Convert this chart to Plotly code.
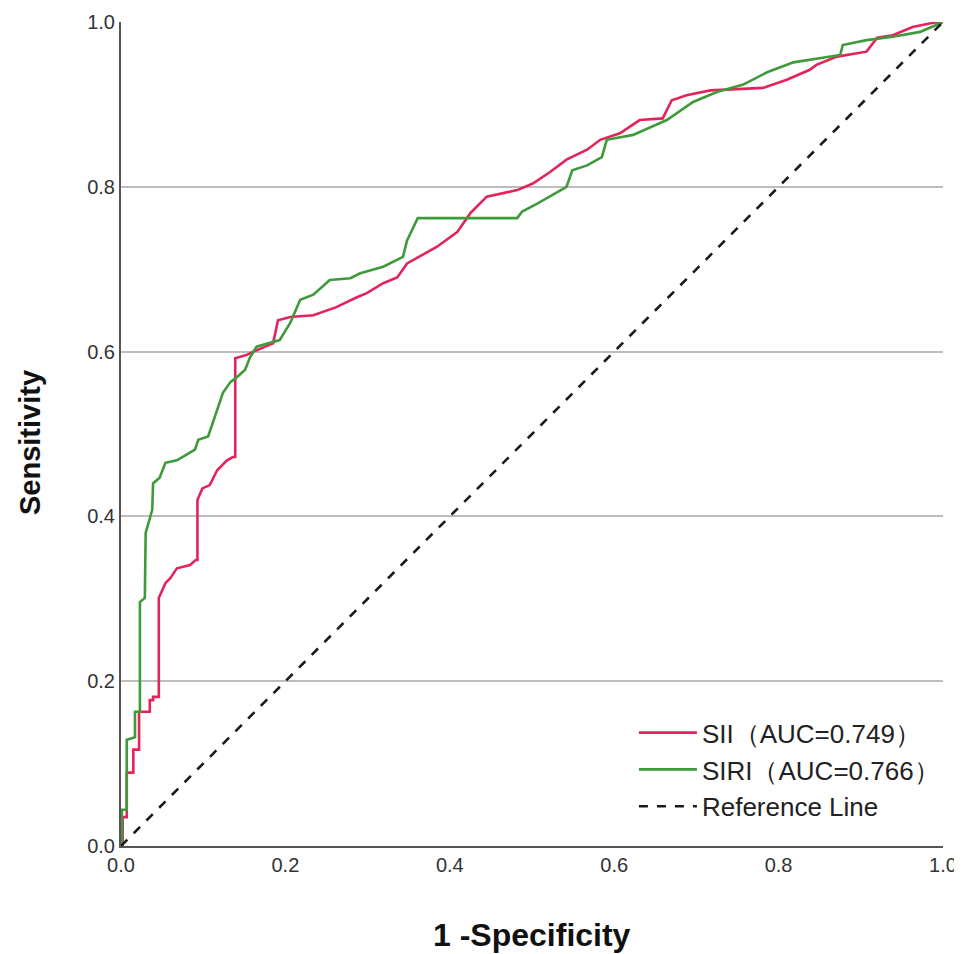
import plotly.graph_objects as go

# SII ROC curve points (1-specificity, sensitivity)
sii_x = [0.0, 0.002, 0.002, 0.007, 0.007, 0.015, 0.015, 0.022, 0.022, 0.035, 0.035, 0.039, 0.039, 0.046, 0.046,
         0.054, 0.060, 0.068, 0.084, 0.091, 0.093, 0.093, 0.099, 0.108, 0.117, 0.129, 0.136, 0.139, 0.139,
         0.153, 0.161, 0.185, 0.191, 0.206, 0.234, 0.262, 0.287, 0.299, 0.319, 0.336, 0.348, 0.384, 0.409,
         0.425, 0.445, 0.482, 0.501, 0.522, 0.542, 0.567, 0.583, 0.607, 0.631, 0.659, 0.670, 0.688, 0.717,
         0.781, 0.810, 0.838, 0.846, 0.871, 0.907, 0.920, 0.939, 0.963, 0.988, 1.0]
sii_y = [0.0, 0.0, 0.035, 0.035, 0.089, 0.089, 0.117, 0.117, 0.163, 0.163, 0.177, 0.177, 0.181, 0.181, 0.301,
         0.319, 0.325, 0.337, 0.341, 0.347, 0.347, 0.420, 0.434, 0.438, 0.456, 0.468, 0.472, 0.472, 0.592,
         0.596, 0.600, 0.610, 0.638, 0.642, 0.644, 0.654, 0.666, 0.671, 0.683, 0.690, 0.707, 0.727, 0.745,
         0.768, 0.788, 0.796, 0.804, 0.818, 0.833, 0.845, 0.857, 0.865, 0.881, 0.883, 0.905, 0.911, 0.917,
         0.920, 0.930, 0.942, 0.948, 0.958, 0.964, 0.981, 0.984, 0.994, 0.999, 1.0]

# SIRI ROC curve points
siri_x = [0.0, 0.001, 0.001, 0.007, 0.007, 0.015, 0.017, 0.017, 0.023, 0.023, 0.029, 0.030, 0.038, 0.039,
          0.047, 0.054, 0.068, 0.090, 0.094, 0.106, 0.124, 0.133, 0.141, 0.151, 0.157, 0.165, 0.185, 0.193,
          0.206, 0.218, 0.234, 0.254, 0.279, 0.291, 0.319, 0.343, 0.348, 0.361, 0.482, 0.488, 0.507, 0.542,
          0.549, 0.567, 0.585, 0.591, 0.623, 0.664, 0.696, 0.725, 0.757, 0.786, 0.818, 0.850, 0.875, 0.878,
          0.907, 0.939, 0.972, 0.984, 1.0]
siri_y = [0.0, 0.0, 0.044, 0.044, 0.129, 0.132, 0.132, 0.163, 0.163, 0.296, 0.301, 0.380, 0.408, 0.440,
          0.447, 0.465, 0.468, 0.481, 0.493, 0.497, 0.550, 0.563, 0.569, 0.578, 0.593, 0.606, 0.612, 0.614,
          0.635, 0.663, 0.669, 0.687, 0.689, 0.695, 0.703, 0.715, 0.735, 0.762, 0.762, 0.770, 0.780, 0.800,
          0.820, 0.826, 0.836, 0.857, 0.863, 0.881, 0.903, 0.915, 0.924, 0.939, 0.951, 0.956, 0.960, 0.972,
          0.978, 0.982, 0.988, 0.993, 1.0]

ref_x = [0.0, 1.0]
ref_y = [0.0, 1.0]

tick_vals = [0.0, 0.2, 0.4, 0.6, 0.8, 1.0]
tick_text = ["0.0", "0.2", "0.4", "0.6", "0.8", "1.0"]

names = ["SII（AUC=0.749）", "SIRI（AUC=0.766）", "Reference Line"]
x_title = "1 -Specificity"
y_title = "Sensitivity"

fig = go.Figure()
fig.add_trace(go.Scatter(x=sii_x, y=sii_y, mode="lines", name=names[0],
                         line=dict(color="#E3245A", width=2.6)))
fig.add_trace(go.Scatter(x=siri_x, y=siri_y, mode="lines", name=names[1],
                         line=dict(color="#3E9A3A", width=2.6)))
fig.add_trace(go.Scatter(x=ref_x, y=ref_y, mode="lines", name=names[2],
                         line=dict(color="#1a1a1a", width=2.6, dash="dash")))

font_family = "Liberation Sans, Arial, sans-serif"

fig.update_layout(
    width=954, height=946,
    margin=dict(l=113, r=19, t=14, b=108, autoexpand=False),
    paper_bgcolor="white", plot_bgcolor="white",
    font=dict(family=font_family, color="#222222"),
    showlegend=True,
    legend=dict(x=0.624, y=0.166, xanchor="left", yanchor="top",
                bgcolor="rgba(255,255,255,0)", font=dict(size=26, color="#222222"),
                tracegroupgap=0, itemwidth=58),
    annotations=[
        dict(text="<b>" + x_title + "</b>", x=0.5, y=0, xref="paper", yref="paper",
             xanchor="center", yanchor="middle", yshift=-89, showarrow=False,
             font=dict(size=32, color="#111111")),
        dict(text="<b>" + y_title + "</b>", x=0, y=0.5, xref="paper", yref="paper",
             xanchor="center", yanchor="middle", xshift=-91, yshift=-9, textangle=-90,
             showarrow=False, font=dict(size=29, color="#111111")),
    ],
)
fig.update_xaxes(range=[0, 1], tickvals=tick_vals, ticktext=tick_text, automargin=False,
                 showgrid=False, zeroline=False, showline=True, linecolor="#555555", linewidth=2,
                 ticks="", tickfont=dict(size=20, color="#333333"))
fig.update_yaxes(range=[0, 1], tickvals=tick_vals, ticktext=tick_text, automargin=False,
                 showgrid=True, gridcolor="#bdbdbd", gridwidth=2, zeroline=False,
                 showline=True, linecolor="#555555", linewidth=2,
                 ticks="", tickfont=dict(size=20, color="#333333"))

fig.write_html("out.html")
